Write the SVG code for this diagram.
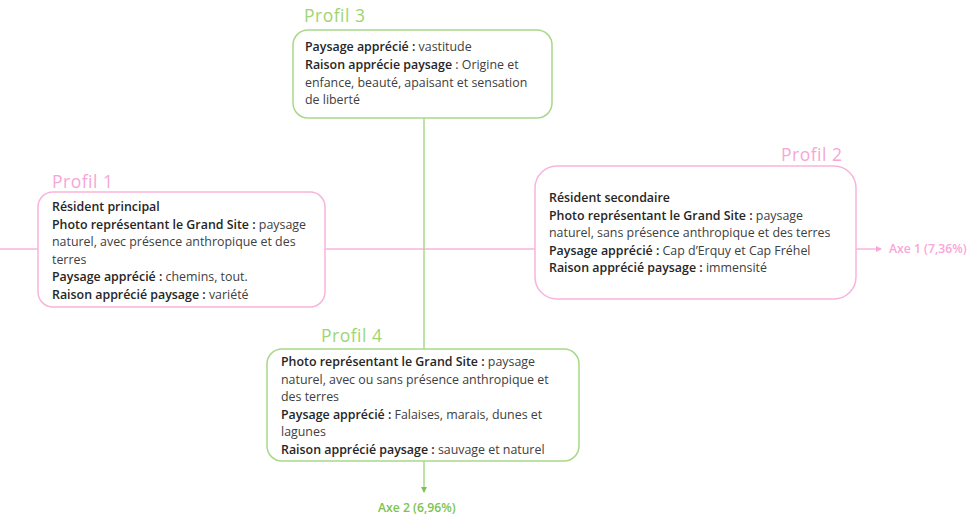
<svg xmlns="http://www.w3.org/2000/svg" width="973" height="517" viewBox="0 0 973 517">
<style>
.pbox{fill:#fff;stroke:#f9b4dc;stroke-width:1.5}
.gbox{fill:#fff;stroke:#a9d88a;stroke-width:1.5}
.t{font-family:"Open Sans","Liberation Sans",Arial,sans-serif;font-size:12.4px;fill:#404040}
.b{font-weight:600;fill:#262626}
.pt{font-family:"Open Sans","Liberation Sans",Arial,sans-serif;font-size:17.5px;letter-spacing:0.5px;fill:#f7a6d6}
.gt{font-family:"Open Sans","Liberation Sans",Arial,sans-serif;font-size:17.5px;letter-spacing:0.5px;fill:#9ed573}
.pa{font-family:"Open Sans","Liberation Sans",Arial,sans-serif;font-size:12.2px;font-weight:600;fill:#f9a6d8}
.ga{font-family:"Open Sans","Liberation Sans",Arial,sans-serif;font-size:12.2px;font-weight:600;fill:#7cc350}
.pl{stroke:#f9b4dc;stroke-width:1.5;fill:none}
.gl{stroke:#a9d88a;stroke-width:1.5;fill:none}
</style>
<defs>
<marker id="pa" markerWidth="6" markerHeight="6" refX="5" refY="3" orient="auto" markerUnits="userSpaceOnUse"><path d="M0,0 L6,3 L0,6 z" fill="#f9a6d8"/></marker>
<marker id="ga" markerWidth="6" markerHeight="6" refX="5" refY="3" orient="auto" markerUnits="userSpaceOnUse"><path d="M0,0 L6,3 L0,6 z" fill="#7cc350"/></marker>
</defs>
<g id="connectors">
<line class="pl" x1="0" y1="249" x2="38" y2="249"/>
<line class="pl" x1="325" y1="249" x2="535" y2="249"/>
<line class="pl" x1="856" y1="249" x2="881" y2="249" marker-end="url(#pa)"/>
<line class="gl" x1="424" y1="118" x2="424" y2="349"/>
<line class="gl" x1="424" y1="461" x2="424" y2="492" marker-end="url(#ga)"/>
</g>
<g id="axe1"><text class="pa" x="889" y="253">Axe 1 (7,36%)</text></g>
<g id="axe2"><text class="ga" x="378" y="512">Axe 2 (6,96%)</text></g>
<g id="profil3">
<text class="gt" x="304" y="22">Profil  3</text>
<rect class="gbox" x="293" y="30" width="259" height="88" rx="15"/>
<text class="t" x="305" y="51"><tspan class="b">Paysage apprécié :</tspan> vastitude</text>
<text class="t" x="305" y="69"><tspan class="b">Raison apprécie paysage</tspan> : Origine et</text>
<text class="t" x="305" y="87">enfance, beauté, apaisant et sensation</text>
<text class="t" x="305" y="104">de liberté</text>
</g>
<g id="profil1">
<text class="pt" x="52" y="188">Profil 1</text>
<rect class="pbox" x="38" y="192" width="287" height="115" rx="15"/>
<text class="t b" x="52" y="211">Résident principal</text>
<text class="t" x="52" y="229"><tspan class="b">Photo représentant le Grand Site :</tspan> paysage</text>
<text class="t" x="52" y="246">naturel, avec présence anthropique et des</text>
<text class="t" x="52" y="264">terres</text>
<text class="t" x="52" y="281"><tspan class="b">Paysage apprécié :</tspan> chemins, tout.</text>
<text class="t" x="52" y="299"><tspan class="b">Raison apprécié paysage :</tspan> variété</text>
</g>
<g id="profil2">
<text class="pt" x="781" y="161">Profil 2</text>
<rect class="pbox" x="535" y="166" width="321" height="133" rx="22"/>
<text class="t b" x="549" y="202">Résident secondaire</text>
<text class="t" x="549" y="220"><tspan class="b">Photo représentant le Grand Site :</tspan> paysage</text>
<text class="t" x="549" y="237">naturel, sans présence anthropique et des terres</text>
<text class="t" x="549" y="255"><tspan class="b">Paysage apprécié :</tspan> Cap d’Erquy et Cap Fréhel</text>
<text class="t" x="549" y="272"><tspan class="b">Raison apprécié paysage :</tspan> immensité</text>
</g>
<g id="profil4">
<text class="gt" x="321" y="342">Profil  4</text>
<rect class="gbox" x="267" y="349" width="312" height="112" rx="15"/>
<text class="t" x="281" y="366"><tspan class="b">Photo représentant le Grand Site :</tspan> paysage</text>
<text class="t" x="281" y="384">naturel, avec ou sans présence anthropique et</text>
<text class="t" x="281" y="401">des terres</text>
<text class="t" x="281" y="419"><tspan class="b">Paysage apprécié :</tspan> Falaises, marais, dunes et</text>
<text class="t" x="281" y="436">lagunes</text>
<text class="t" x="281" y="454"><tspan class="b">Raison apprécié paysage :</tspan> sauvage et naturel</text>
</g>
</svg>
